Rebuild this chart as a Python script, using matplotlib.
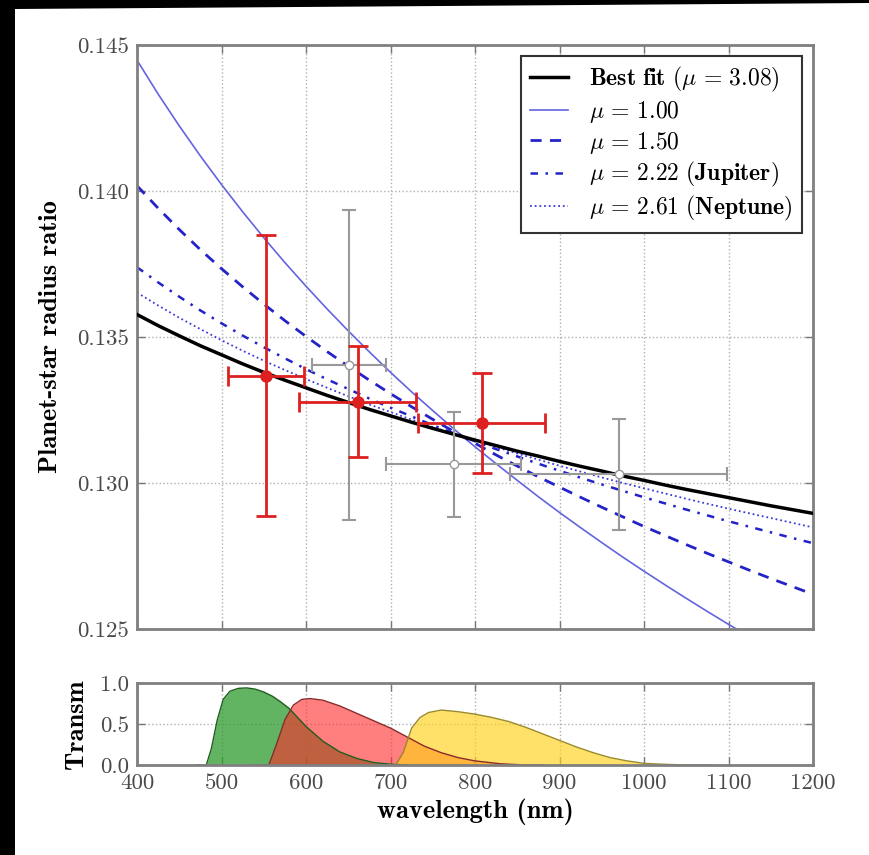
import matplotlib
matplotlib.use("Agg")
import matplotlib.pyplot as plt
from matplotlib.patches import Polygon

plt.rcParams['font.family'] = 'serif'
plt.rcParams['font.serif'] = ['cmr10']
plt.rcParams['mathtext.fontset'] = 'cm'
plt.rcParams['axes.formatter.use_mathtext'] = True
plt.rcParams['axes.unicode_minus'] = False

# model curves, every 25 nm
wl = [400, 425, 450, 475, 500, 525, 550, 575, 600, 625, 650, 675, 700, 725, 750, 775, 800,
      825, 850, 875, 900, 925, 950, 975, 1000, 1025, 1050, 1075, 1100, 1125, 1150, 1175, 1200]
best_fit = [0.13577, 0.13539, 0.13504, 0.13470, 0.13439, 0.13408, 0.13379, 0.13352, 0.13326,
            0.13300, 0.13276, 0.13252, 0.13230, 0.13208, 0.13187, 0.13167, 0.13147, 0.13128,
            0.13109, 0.13092, 0.13074, 0.13057, 0.13041, 0.13024, 0.13009, 0.12993, 0.12978,
            0.12964, 0.12950, 0.12936, 0.12922, 0.12909, 0.12896]
mu_100 = [0.14448, 0.14332, 0.14223, 0.14120, 0.14022, 0.13929, 0.13840, 0.13755, 0.13674,
          0.13596, 0.13521, 0.13449, 0.13379, 0.13312, 0.13248, 0.13185, 0.13124, 0.13066,
          0.13009, 0.12953, 0.12899, 0.12847, 0.12796, 0.12746, 0.12698, 0.12651, 0.12605,
          0.12560, 0.12516, 0.12473, 0.12431, 0.12390, 0.12350]
mu_150 = [0.14018, 0.13941, 0.13868, 0.13799, 0.13734, 0.13672, 0.13613, 0.13556, 0.13502,
          0.13450, 0.13400, 0.13352, 0.13306, 0.13261, 0.13218, 0.13176, 0.13136, 0.13096,
          0.13058, 0.13021, 0.12986, 0.12951, 0.12917, 0.12884, 0.12851, 0.12820, 0.12789,
          0.12759, 0.12730, 0.12701, 0.12673, 0.12646, 0.12619]
mu_222 = [0.13739, 0.13687, 0.13638, 0.13591, 0.13547, 0.13505, 0.13465, 0.13427, 0.13390,
          0.13355, 0.13322, 0.13289, 0.13258, 0.13228, 0.13198, 0.13170, 0.13143, 0.13116,
          0.13091, 0.13066, 0.13042, 0.13018, 0.12995, 0.12973, 0.12951, 0.12930, 0.12909,
          0.12889, 0.12869, 0.12850, 0.12831, 0.12812, 0.12794]
mu_261 = [0.13652, 0.13608, 0.13566, 0.13527, 0.13489, 0.13453, 0.13419, 0.13387, 0.13356,
          0.13326, 0.13297, 0.13269, 0.13243, 0.13217, 0.13192, 0.13168, 0.13145, 0.13123,
          0.13101, 0.13080, 0.13059, 0.13039, 0.13019, 0.13000, 0.12982, 0.12964, 0.12946,
          0.12929, 0.12912, 0.12896, 0.12880, 0.12864, 0.12848]

# measurements
red_x = [553, 661, 808]
red_xerr = [45, 69, 75]
red_y = [0.13368, 0.13278, 0.13205]
red_yerr = [0.0048, 0.0019, 0.0017]

grey_x = [651, 775, 970]
grey_xerr = [44, 80, 128]
grey_y = [0.13404, 0.13064, 0.13030]
grey_yerr = [0.0053, 0.0018, 0.0019]

# filter transmission curves
g_wl = [470, 482, 488, 495, 502, 510, 520, 530, 540, 550, 560, 570, 580, 590, 600, 620, 640, 660, 680, 700, 720]
g_tr = [0, 0, 0.2, 0.55, 0.8, 0.9, 0.935, 0.94, 0.925, 0.89, 0.84, 0.77, 0.69, 0.58, 0.47, 0.29, 0.16, 0.08, 0.03, 0.01, 0]
r_wl = [540, 556, 565, 575, 585, 595, 605, 620, 640, 660, 680, 700, 720, 740, 760, 780, 800, 830, 860, 880]
r_tr = [0, 0, 0.25, 0.55, 0.73, 0.8, 0.81, 0.79, 0.72, 0.63, 0.54, 0.45, 0.34, 0.23, 0.15, 0.09, 0.05, 0.015, 0, 0]
y_wl = [690, 706, 715, 725, 735, 745, 760, 780, 800, 820, 840, 860, 880, 900, 920, 940, 960, 980, 1000, 1020, 1050, 1080]
y_tr = [0, 0, 0.15, 0.45, 0.58, 0.64, 0.67, 0.65, 0.62, 0.58, 0.53, 0.46, 0.38, 0.30, 0.22, 0.15, 0.09, 0.05, 0.02, 0.01, 0, 0]

fig = plt.figure(figsize=(8.69, 8.55), dpi=100)
ax = fig.add_axes([137/869, 1-629/855, 676/869, 584/855])
axb = fig.add_axes([137/869, 1-765/855, 676/869, 82/855])

# black border strip of the screenshot
fig.patches.append(Polygon([[0, 0], [15/869, 0], [15/869, 1-9/855], [1, 1-3/855], [1, 1], [0, 1]],
                           closed=True, transform=fig.transFigure, facecolor='black', edgecolor='none'))

ax.plot(wl, best_fit, color='black', lw=2.5, label=r'$\mathbf{Best\ fit}\ (\mu\,=\,3.08)$', zorder=4)
ax.plot(wl, mu_100, color='#6464e0', lw=1.2, label=r'$\mu\,=\,1.00$')
ax.plot(wl, mu_150, color='#2323c8', lw=2, ls=(0, (4, 3)), label=r'$\mu\,=\,1.50$')
ax.plot(wl, mu_222, color='#2323c8', lw=1.8, ls=(0, (3, 3, 1, 3)), label=r'$\mu\,=\,2.22\ \mathbf{(Jupiter)}$')
ax.plot(wl, mu_261, color='#3c3cd8', lw=1.3, ls=(0, (1, 1.6)), label=r'$\mu\,=\,2.61\ \mathbf{(Neptune)}$')

ax.errorbar(grey_x, grey_y, xerr=grey_xerr, yerr=grey_yerr, fmt='o', color='#999999',
            mfc='white', mec='#999999', ms=6, elinewidth=1.5, capsize=5, capthick=1.5, zorder=5)
ax.errorbar(red_x, red_y, xerr=red_xerr, yerr=red_yerr, fmt='o', color='#dd2020',
            ms=8, elinewidth=2, capsize=7, capthick=2, zorder=6)

ax.set_xlim(400, 1200)
ax.set_ylim(0.125, 0.145)
ax.set_yticks([0.125, 0.130, 0.135, 0.140, 0.145])
ax.set_yticklabels(['0.125', '0.130', '0.135', '0.140', '0.145'])
ax.set_xticks(range(400, 1201, 100))
ax.tick_params(labelbottom=False)
ax.set_ylabel('Planet-star radius ratio', fontfamily='cmb10', fontsize=19)
ax.yaxis.set_label_coords(-0.111, 0.5)

leg = ax.legend(loc='upper right', fontsize=17, handlelength=1.6, borderpad=0.4,
                labelspacing=0.2, handletextpad=0.9, borderaxespad=0.45,
                fancybox=False, framealpha=1)
leg.get_frame().set_edgecolor('#333333')
leg.get_frame().set_linewidth(1.5)

axb.fill_between(g_wl, g_tr, color='#2e9a2e', alpha=0.75, lw=0)
axb.plot(g_wl, g_tr, color='#1d5e1d', lw=1)
axb.fill_between(r_wl, r_tr, color='#ff2a2a', alpha=0.6, lw=0)
axb.plot(r_wl, r_tr, color='#8a2a2a', lw=1)
axb.fill_between(y_wl, y_tr, color='#ffd21a', alpha=0.65, lw=0)
axb.plot(y_wl, y_tr, color='#9a8a2a', lw=1)

axb.set_xlim(400, 1200)
axb.set_ylim(0, 1)
axb.set_xticks(range(400, 1201, 100))
axb.set_xticklabels([str(v) for v in range(400, 1201, 100)])
axb.set_yticks([0, 0.5, 1.0])
axb.set_yticklabels(['0.0', '0.5', '1.0'])
axb.set_xlabel('wavelength (nm)', fontfamily='cmb10', fontsize=19, labelpad=4)
axb.set_ylabel('Transm', fontfamily='cmb10', fontsize=19)
axb.yaxis.set_label_coords(-0.072, 0.5)

for a in (ax, axb):
    a.grid(True, ls=':', color='#b0b0b0', lw=1)
    a.tick_params(direction='in', top=True, right=True, length=6, width=1,
                  color='#777777', labelsize=16.5, labelcolor='#4a4a4a', pad=6)
    for s in a.spines.values():
        s.set_color('#808080')
        s.set_linewidth(2)
    a.set_axisbelow(True)
    for lab in a.get_xticklabels() + a.get_yticklabels():
        lab.set_fontfamily('cmr10')

fig.savefig('out.png', dpi=100, facecolor='white')
